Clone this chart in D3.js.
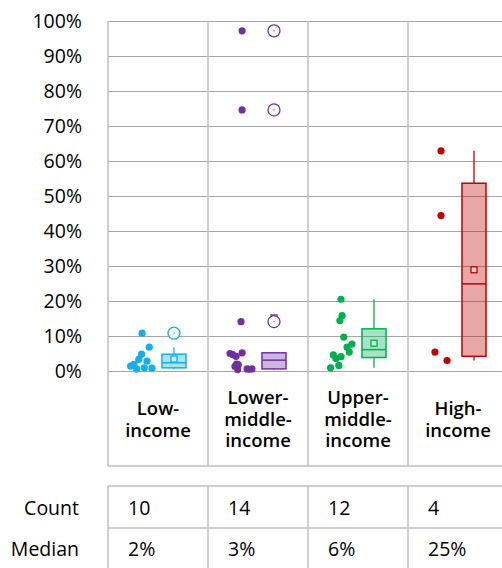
<!DOCTYPE html>
<html>
<head>
<meta charset="utf-8">
<script src="https://cdn.jsdelivr.net/npm/d3@7"></script>
<style>
  html, body { margin: 0; padding: 0; background: #fff; }
  svg { display: block; font-family: "Open Sans", Lato, sans-serif; }
</style>
</head>
<body>
<svg id="chart" width="502" height="568"></svg>
<script>
// Income groups and their wrapped column headings
const categories = ["Low-income", "Lower-middle-income", "Upper-middle-income", "High-income"];
const categoryLines = [["Low-", "income"], ["Lower-", "middle-", "income"], ["Upper-", "middle-", "income"], ["High-", "income"]];

// Share per country in each income group
const lowIncome = [0.108, 0.068, 0.048, 0.033, 0.028, 0.019, 0.014, 0.009, 0.008, 0.006];
const lowerMiddleIncome = [0.972, 0.746, 0.141, 0.052, 0.050, 0.047, 0.042, 0.020, 0.018, 0.013, 0.006, 0.006, 0.005, 0.004];
const upperMiddleIncome = [0.205, 0.158, 0.144, 0.097, 0.077, 0.068, 0.054, 0.046, 0.041, 0.036, 0.016, 0.009];
const highIncome = [0.629, 0.444, 0.054, 0.030];

// Horizontal spread of the dots (fraction of the strip half-width)
const lowJitter = [0.1, 0.75, 0.05, -0.2, 0.55, -0.65, -0.95, 0.3, 1.0, -0.4];
const lowerMiddleJitter = [0.1, 0.1, 0.0, 0.1, -1.0, -0.75, -0.45, -0.4, -0.25, -0.55, 0.55, 1.0, 0.75, -0.3];
const upperMiddleJitter = [0.0, 0.1, -0.1, 0.25, 1.0, 0.55, 0.75, -0.7, 0.0, -0.45, -0.2, -0.95];
const highJitter = [0.0, 0.0, -0.55, 0.55];

const yTicks = [0, 0.1, 0.2, 0.3, 0.4, 0.5, 0.6, 0.7, 0.8, 0.9, 1.0];
const tableRows = ["Count", "Median"];

const groups = [lowIncome, lowerMiddleIncome, upperMiddleIncome, highIncome];
const jitters = [lowJitter, lowerMiddleJitter, upperMiddleJitter, highJitter];
const colors = ["#12AEEF", "#7030A0", "#00B050", "#C00000"];

const svg = d3.select("#chart");
const plotLeft = 108, plotRight = 508, plotTop = 21, zeroY = 371, labelBottom = 466;
const tableTop = 486, tableMid = 528, tableBottom = 572;
const fontSize = 19.5, headSize = 18.5;

const x = d3.scaleBand().domain(categories).range([plotLeft, plotRight]).paddingInner(0).paddingOuter(0);
const y = d3.scaleLinear().domain([0, 1]).range([zeroY, plotTop]);
const pct = d3.format(".0%");

// Gridlines and percentage labels
const yAxis = d3.axisLeft(y)
  .tickValues(yTicks)
  .tickFormat(pct)
  .tickSizeInner(-(plotRight - plotLeft))
  .tickSizeOuter(0)
  .tickPadding(26);

const ga = svg.append("g").attr("transform", `translate(${plotLeft},0)`).call(yAxis);
ga.select(".domain").remove();
ga.selectAll(".tick line").attr("stroke", "#A6A6A6").attr("stroke-width", 1);
ga.selectAll(".tick text")
  .attr("fill", "#000")
  .attr("font-size", fontSize)
  .attr("font-family", "'Open Sans', Lato, sans-serif");

// Column separators through plot and heading area
const edges = categories.map(c => x(c)).concat([plotRight]);
svg.append("g").selectAll("line")
  .data(edges)
  .join("line")
  .attr("x1", d => d)
  .attr("x2", d => d)
  .attr("y1", plotTop)
  .attr("y2", labelBottom)
  .attr("stroke", "#BFBFBF")
  .attr("stroke-width", 1.5);

svg.append("line")
  .attr("x1", plotLeft).attr("x2", plotRight)
  .attr("y1", labelBottom).attr("y2", labelBottom)
  .attr("stroke", "#BFBFBF").attr("stroke-width", 1.5);

// Column headings
categories.forEach((c, i) => {
  const lines = categoryLines[i];
  const lh = 21.5, mid = 419.5;
  const t = svg.append("text")
    .attr("text-anchor", "middle")
    .attr("font-size", headSize)
    .attr("font-weight", 600)
    .attr("fill", "#000");
  lines.forEach((ln, j) => {
    t.append("tspan")
      .attr("x", x(c) + x.bandwidth() / 2)
      .attr("y", mid + (j - (lines.length - 1) / 2) * lh)
      .attr("dy", "0.35em")
      .text(ln);
  });
});

// Box statistics using Tukey hinges and 1.5 IQR whiskers
function boxStats(values) {
  const s = values.slice().sort(d3.ascending);
  const n = s.length;
  const lower = s.slice(0, Math.ceil(n / 2));
  const upper = s.slice(Math.floor(n / 2));
  const q1 = d3.median(lower), q3 = d3.median(upper), med = d3.median(s);
  const iqr = q3 - q1;
  const lo = d3.min(s.filter(v => v >= q1 - 1.5 * iqr));
  const hi = d3.max(s.filter(v => v <= q3 + 1.5 * iqr));
  const outliers = s.filter(v => v < lo || v > hi);
  return { q1, q3, med, lo, hi, outliers, mean: d3.mean(s), n };
}

const stripOffset = 33, stripHalf = 11, boxOffset = 66, boxHalf = 12;

groups.forEach((vals, i) => {
  const c = categories[i];
  const col = colors[i];
  const g = svg.append("g");
  const st = boxStats(vals);
  const bx = x(c) + boxOffset;

  // Whiskers
  g.append("line")
    .attr("x1", bx).attr("x2", bx)
    .attr("y1", y(st.hi)).attr("y2", y(st.q3))
    .attr("stroke", col).attr("stroke-width", 1.3);
  g.append("line")
    .attr("x1", bx).attr("x2", bx)
    .attr("y1", y(st.q1)).attr("y2", y(st.lo))
    .attr("stroke", col).attr("stroke-width", 1.3);

  // Box
  g.append("rect")
    .attr("x", bx - boxHalf)
    .attr("y", y(st.q3))
    .attr("width", boxHalf * 2)
    .attr("height", y(st.q1) - y(st.q3))
    .attr("fill", col).attr("fill-opacity", 0.35)
    .attr("stroke", col).attr("stroke-width", 1.5);
  g.append("line")
    .attr("x1", bx - boxHalf).attr("x2", bx + boxHalf)
    .attr("y1", y(st.med)).attr("y2", y(st.med))
    .attr("stroke", col).attr("stroke-width", 1.5);

  // Mean marker
  g.append("rect")
    .attr("x", bx - 3).attr("y", y(st.mean) - 3)
    .attr("width", 6).attr("height", 6)
    .attr("fill", "#fff").attr("fill-opacity", 0.4)
    .attr("stroke", col).attr("stroke-width", 1.3);

  // Outliers
  st.outliers.forEach(v => {
    g.append("circle")
      .attr("cx", bx).attr("cy", y(v)).attr("r", 6)
      .attr("fill", "#fff").attr("stroke", col).attr("stroke-width", 1.3);
    g.append("circle")
      .attr("cx", bx).attr("cy", y(v)).attr("r", 0.7)
      .attr("fill", col);
  });

  // Individual values
  g.selectAll("circle.pt")
    .data(vals)
    .join("circle")
    .attr("class", "pt")
    .attr("cx", (d, k) => x(c) + stripOffset + jitters[i][k] * stripHalf)
    .attr("cy", d => y(d))
    .attr("r", 3.6)
    .attr("fill", col);
});

// Summary table
svg.append("line")
  .attr("x1", plotLeft).attr("x2", plotRight)
  .attr("y1", tableTop).attr("y2", tableTop)
  .attr("stroke", "#BFBFBF").attr("stroke-width", 1.5);
svg.append("line")
  .attr("x1", plotLeft).attr("x2", plotRight)
  .attr("y1", tableMid).attr("y2", tableMid)
  .attr("stroke", "#BFBFBF").attr("stroke-width", 1.5);
svg.append("g").selectAll("line")
  .data(categories)
  .join("line")
  .attr("x1", d => x(d)).attr("x2", d => x(d))
  .attr("y1", tableTop).attr("y2", tableBottom)
  .attr("stroke", "#BFBFBF").attr("stroke-width", 1.5);

const rowY = [508, 549];
tableRows.forEach((r, ri) => {
  svg.append("text")
    .attr("x", 79).attr("y", rowY[ri]).attr("dy", "0.35em")
    .attr("text-anchor", "end")
    .attr("font-size", fontSize).attr("fill", "#000")
    .text(r);
});
groups.forEach((vals, i) => {
  const c = categories[i];
  svg.append("text")
    .attr("x", x(c) + 20).attr("y", rowY[0]).attr("dy", "0.35em")
    .attr("font-size", fontSize).attr("fill", "#000")
    .text(vals.length);
  svg.append("text")
    .attr("x", x(c) + 20).attr("y", rowY[1]).attr("dy", "0.35em")
    .attr("font-size", fontSize).attr("fill", "#000")
    .text(pct(d3.median(vals)));
});
</script>
</body>
</html>
